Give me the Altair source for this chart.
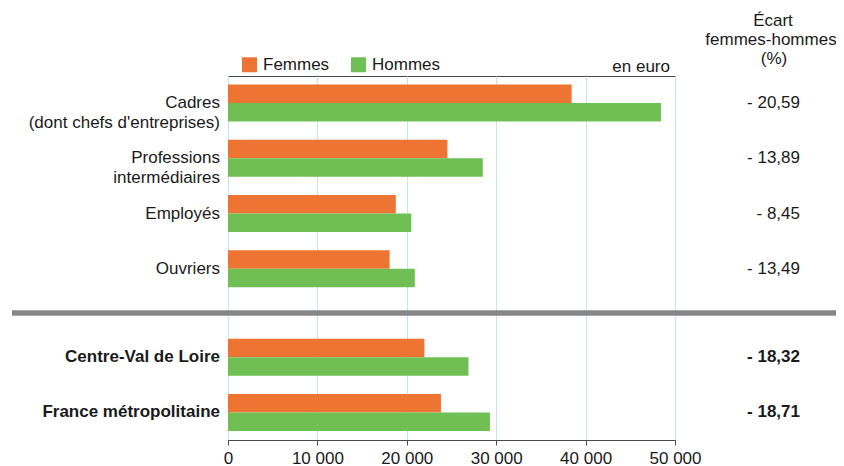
import altair as alt
import pandas as pd

# ---- data ----
categories = [
    "Cadres\n(dont chefs d'entreprises)",
    "Professions\nintermédiaires",
    "Employés",
    "Ouvriers",
    "Centre-Val de Loire",
    "France métropolitaine",
]
is_total = [False, False, False, False, True, True]
femmes = [38440, 24540, 18770, 18080, 21970, 23820]
hommes = [48430, 28500, 20500, 20900, 26900, 29300]
ecarts = [-20.59, -13.89, -8.45, -13.49, -18.32, -18.71]
series = ["Femmes", "Hommes"]
colors = ["#ED7433", "#70BF55"]
x_ticks = [0, 10000, 20000, 30000, 40000, 50000]
header_lines = ["Écart", "femmes-hommes", "(%)"]
unit_label = "en euro"

# ---- layout ----
FONT = "Liberation Sans"
TXT = "#1a1a1a"
AX = "#4a4a4a"
W, H = 447, 364
GAP = 0.6          # extra space before the total rows
BAR = 0.335        # bar thickness in row units

pos = []
for i, t in enumerate(is_total):
    pos.append(i + (GAP if t else 0))

rows = pd.DataFrame({"label": categories, "pos": pos, "total": is_total,
                     "ecart": [("- " + f"{abs(v):.2f}".replace(".", ",")) for v in ecarts]})

bar_rows = []
for i, c in enumerate(categories):
    bar_rows.append({"cat": c, "serie": series[0], "valeur": femmes[i], "base": 0,
                     "y0": pos[i] - BAR, "y1": pos[i]})
    bar_rows.append({"cat": c, "serie": series[1], "valeur": hommes[i], "base": 0,
                     "y0": pos[i], "y1": pos[i] + BAR})
bars_df = pd.DataFrame(bar_rows)

yscale = alt.Scale(domain=[-0.49, 6.1], reverse=True, nice=False, zero=False)
sep_pos = (pos[3] + pos[4]) / 2
boundary_ticks = [0.5, 1.5, 2.5, pos[4] + 0.5, 6.1]

bars = alt.Chart(bars_df).mark_rect().encode(
    x=alt.X("base:Q", scale=alt.Scale(domain=[0, 50000], nice=False),
            axis=alt.Axis(values=x_ticks, title=None,
                          labelExpr="replace(format(datum.value, ','), ',', ' ')",
                          labelFont=FONT, labelFontSize=17, labelColor=TXT,
                          labelPadding=5, tickSize=5, tickColor=AX, domainColor=AX,
                          gridColor="#c3e4f6", gridWidth=1, labelFlush=False)),
    x2="valeur:Q",
    y=alt.Y("y0:Q", scale=yscale,
            axis=alt.Axis(values=boundary_ticks, labels=False, title=None, grid=False,
                          tickSize=5, tickColor=AX, domainColor=AX)),
    y2="y1:Q",
    color=alt.Color("serie:N", scale=alt.Scale(domain=series, range=colors),
                    legend=alt.Legend(title=None, orient="none", direction="horizontal",
                                      legendX=13, legendY=-20, symbolType="square",
                                      symbolSize=225, symbolStrokeWidth=0,
                                      labelFont=FONT, labelFontSize=17, labelColor=TXT,
                                      labelOffset=5, columnPadding=20, padding=0)),
)

sep = alt.Chart(pd.DataFrame({"s": [sep_pos]})).mark_rule(
    color="#878787", strokeWidth=5.5).encode(
    y=alt.Y("s:Q", scale=yscale, axis=None),
    x=alt.value(-216), x2=alt.value(613))

def ylabels(df, weight):
    return alt.Chart(df).mark_text(
        align="right", baseline="middle", font=FONT, fontSize=17, fontWeight=weight,
        color=TXT, lineBreak="\n", lineHeight=20).encode(
        x=alt.value(-8), y=alt.Y("pos:Q", scale=yscale, axis=None), text="label:N")

def vlabels(df, weight):
    return alt.Chart(df).mark_text(
        align="right", baseline="middle", font=FONT, fontSize=17, fontWeight=weight,
        color=TXT).encode(
        x=alt.value(572), y=alt.Y("pos:Q", scale=yscale, axis=None), text="ecart:N")

reg = rows[~rows["total"]]
tot = rows[rows["total"]]

header_x = [545, 543, 546]
header_y = [-50, -31, -12]
headers = []
for line, hx, hy in zip(header_lines, header_x, header_y):
    headers.append(alt.Chart(pd.DataFrame({"t": [line]})).mark_text(
        align="center", baseline="alphabetic", font=FONT, fontSize=17, color=TXT).encode(
        x=alt.value(hx), y=alt.value(hy), text="t:N"))

unit = alt.Chart(pd.DataFrame({"t": [unit_label]})).mark_text(
    align="right", baseline="alphabetic", font=FONT, fontSize=17, color=TXT).encode(
    x=alt.value(442), y=alt.value(-4.5), text="t:N")

chart = alt.layer(
    bars, sep, ylabels(reg, "normal"), ylabels(tot, "bold"),
    vlabels(reg, "normal"), vlabels(tot, "bold"), unit, *headers
).properties(
    width=W, height=H,
    autosize=alt.AutoSizeParams(type="none"),
    padding={"left": 220, "top": 68, "right": 161, "bottom": 28},
).configure_view(stroke=AX, strokeWidth=1)

chart.save("out.html", embed_options={"renderer": "svg", "actions": False})
